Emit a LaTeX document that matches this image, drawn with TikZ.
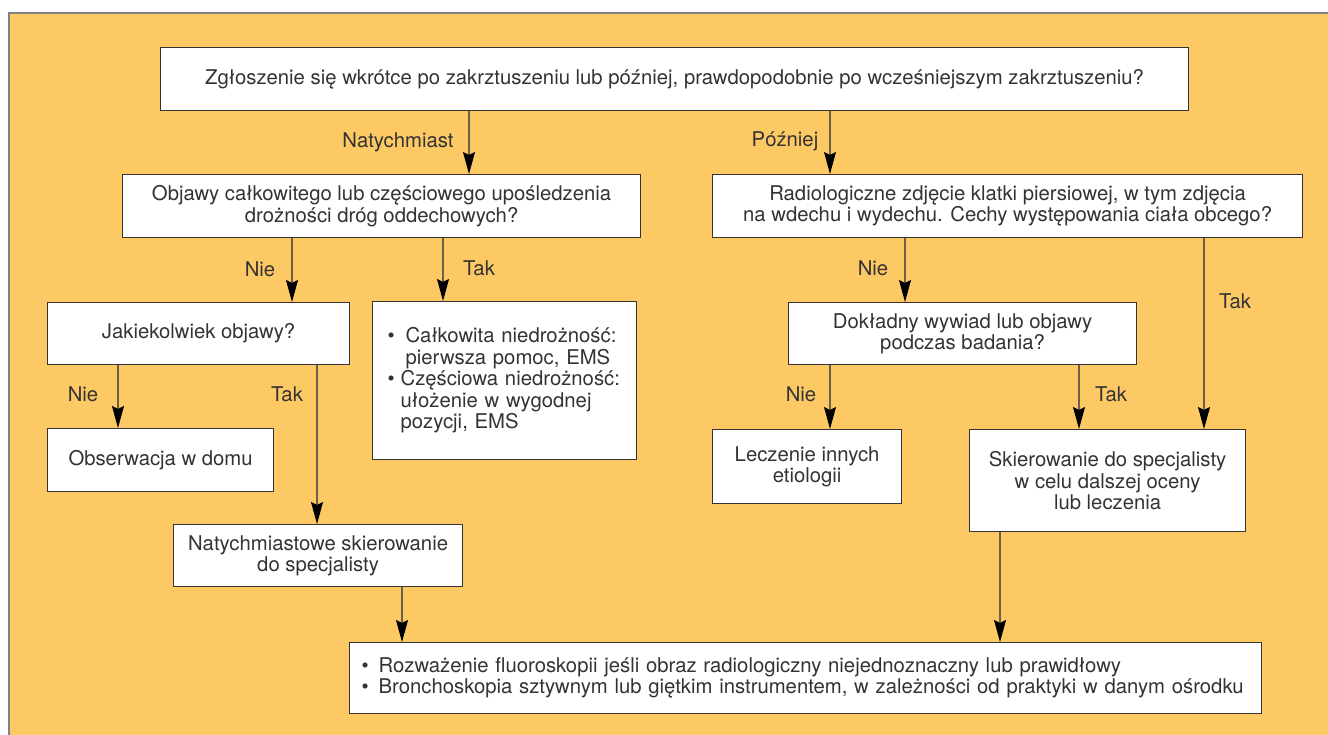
\documentclass[tikz,border=0pt]{standalone}
\usepackage{fontspec}
\setmainfont{TeX Gyre Heros}
\usetikzlibrary{arrows.meta}
\definecolor{bgor}{HTML}{FDC964}
\definecolor{framec}{HTML}{808080}
\definecolor{txt}{HTML}{333333}
\definecolor{boxc}{HTML}{333333}
\definecolor{conn}{HTML}{6E6047}
\newcommand{\fs}{\fontsize{20.3}{21.5}\selectfont}
\begin{document}
\begin{tikzpicture}[x=1pt,y=-1pt,
  box/.style={draw=boxc, line width=1.2pt, fill=white, anchor=north west, inner sep=0pt, text=txt, align=center, font=\fs},
  lbl/.style={text=txt, font=\fs, inner sep=0pt},
  arr/.style={draw=conn, line width=1.1pt, -{Stealth[length=22pt,width=12pt,inset=3pt,color=black]}}]
\useasboundingbox (0,0) rectangle (1328,735);
\fill[white] (0,0) rectangle (1328,735);
\fill[bgor] (9,13) rectangle (1328,735);
\draw[framec, line width=2pt] (9,735) -- (9,13) -- (1328,13);

% boxes
\node[box, minimum width=1028, minimum height=63] (top) at (160,47)
  {Zgłoszenie się wkrótce po zakrztuszeniu lub później, prawdopodobnie po wcześniejszym zakrztuszeniu?};
\node[box, minimum width=518, minimum height=63] (obj) at (122,174)
  {Objawy całkowitego lub częściowego upośledzenia\\drożności dróg oddechowych?};
\node[box, minimum width=590, minimum height=63] (rad) at (712,174)
  {Radiologiczne zdjęcie klatki piersiowej, w tym zdjęcia\\na wdechu i wydechu. Cechy występowania ciała obcego?};
\node[box, minimum width=302, minimum height=62] (jak) at (47,302)
  {Jakiekolwiek objawy?};
\node[box, minimum width=264, minimum height=158, align=left, text width=234, inner xsep=15pt] (bul) at (372,301)
  {\makebox[18pt][l]{•}Całkowita niedrożność:\\
   \hspace*{18pt}pierwsza pomoc, EMS\\
   \makebox[13pt][l]{•}Częściowa niedrożność:\\
   \hspace*{13pt}ułożenie w wygodnej\\
   \hspace*{13pt}pozycji, EMS};
\node[box, minimum width=348, minimum height=62] (dok) at (788,302)
  {Dokładny wywiad lub objawy\\podczas badania?};
\node[box, minimum width=226, minimum height=63] (obs) at (47,428)
  {Obserwacja w domu};
\node[box, minimum width=189, minimum height=74] (lec) at (712,429)
  {Leczenie innych\\etiologii};
\node[box, minimum width=276, minimum height=102] (ski) at (969,429)
  {Skierowanie do specjalisty\\w celu dalszej oceny\\lub leczenia};
\node[box, minimum width=289, minimum height=62] (nat) at (173,524)
  {Natychmiastowe skierowanie\\do specjalisty};
\node[box, minimum width=912, minimum height=71, align=left, text width=888, inner xsep=12pt] (fin) at (349,642)
  {\makebox[17pt][l]{•}Rozważenie fluoroskopii jeśli obraz radiologiczny niejednoznaczny lub prawidłowy\\
   \makebox[17pt][l]{•}Bronchoskopia sztywnym lub giętkim instrumentem, w zależności od praktyki w danym ośrodku};

% x positions of connectors
\coordinate (c1) at (469,0);
\coordinate (c2) at (830,0);
\coordinate (c3) at (292,0);
\coordinate (c4) at (443,0);
\coordinate (c5) at (905,0);
\coordinate (c6) at (1204,0);
\coordinate (c7) at (118,0);
\coordinate (c8) at (317,0);
\coordinate (c9) at (830,0);
\coordinate (c10) at (1079,0);
\coordinate (c11) at (402,0);
\coordinate (c12) at (1000,0);

\draw[arr] (top.south -| c1) -- (obj.north -| c1);
\draw[arr] (top.south -| c2) -- (rad.north -| c2);
\draw[arr] (obj.south -| c3) -- (jak.north -| c3);
\draw[arr] (obj.south -| c4) -- (bul.north -| c4);
\draw[arr] (rad.south -| c5) -- (dok.north -| c5);
\draw[arr] (rad.south -| c6) -- (ski.north -| c6);
\draw[arr] (jak.south -| c7) -- (obs.north -| c7);
\draw[arr] (jak.south -| c8) -- (nat.north -| c8);
\draw[arr] (dok.south -| c9) -- (lec.north -| c9);
\draw[arr] (dok.south -| c10) -- (ski.north -| c10);
\draw[arr] (nat.south -| c11) -- (fin.north -| c11);
\draw[arr] (ski.south -| c12) -- (fin.north -| c12);

% labels
\node[lbl] (l1) at (398,142) {Natychmiast};
\node[lbl] (l2) at (785,141) {Później};
\node[lbl] (l3) at (260,269) {Nie};
\node[lbl] (l4) at (479,268) {Tak};
\node[lbl] (l5) at (873,268) {Nie};
\node[lbl] (l6) at (1235,301) {Tak};
\node[lbl] (l7) at (83,394) {Nie};
\node[lbl] (l8) at (287,394) {Tak};
\node[lbl] (l9) at (801,394) {Nie};
\node[lbl] (l10) at (1111,394) {Tak};
\end{tikzpicture}
\end{document}
